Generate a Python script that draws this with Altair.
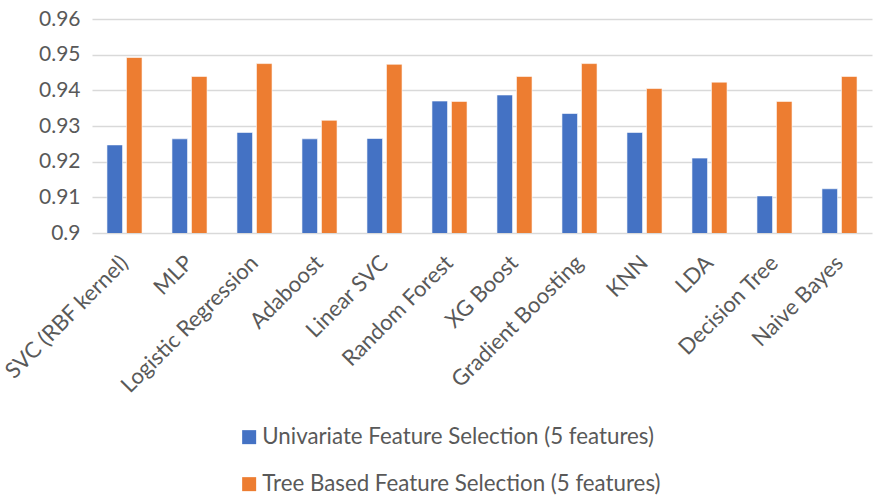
import altair as alt
import pandas as pd

models = ["SVC (RBF kernel)", "MLP", "Logistic Regression", "Adaboost", "Linear SVC",
          "Random Forest", "XG Boost", "Gradient Boosting", "KNN", "LDA",
          "Decision Tree", "Naive Bayes"]
univariate = [0.9247, 0.9264, 0.9282, 0.9264, 0.9265, 0.9370,
              0.9387, 0.9335, 0.9282, 0.9210, 0.9104, 0.9124]
tree_based = [0.9492, 0.9439, 0.9475, 0.9316, 0.9473, 0.9369,
              0.9439, 0.9475, 0.9405, 0.9423, 0.9369, 0.9439]
series = ["Univariate Feature Selection (5 features)",
          "Tree Based Feature Selection (5 features)"]
colors = ["#4472C4", "#ED7D31"]
y_ticks = [0.90, 0.91, 0.92, 0.93, 0.94, 0.95, 0.96]

rows = []
for m, u, t in zip(models, univariate, tree_based):
    rows.append({"model": m, "series": series[0], "score": u})
    rows.append({"model": m, "series": series[1], "score": t})
df = pd.DataFrame(rows)

FONT = "Lato"
GREY = "#595959"

chart = alt.Chart(df).mark_bar(stroke="white", strokeWidth=0.6, clip=True).encode(
    x=alt.X("model:N", sort=models, title=None,
            scale=alt.Scale(paddingInner=0.46, paddingOuter=0.23),
            axis=alt.Axis(labelAngle=-45, labelFontSize=22, labelColor=GREY,
                          labelFont=FONT, ticks=False, domain=False,
                          labelBaseline="middle", labelPadding=26,
                          labelLimit=300)),
    xOffset=alt.XOffset("series:N", sort=series,
                        scale=alt.Scale(paddingInner=0.2)),
    y=alt.Y("score:Q", title=None,
            scale=alt.Scale(domain=[0.9, 0.96], zero=False, nice=False),
            axis=alt.Axis(values=y_ticks, labelExpr="format(datum.value, '~g')",
                          labelFontSize=21, labelColor=GREY, labelFont=FONT,
                          ticks=False, domain=False, labelPadding=12,
                          gridColor="#D9D9D9", gridWidth=1.5)),
    color=alt.Color("series:N", sort=series,
                    scale=alt.Scale(domain=series, range=colors),
                    legend=alt.Legend(title=None, orient="none",
                                      legendX=146, legendY=407,
                                      direction="vertical",
                                      symbolType="square", symbolSize=196,
                                      symbolStrokeWidth=0,
                                      labelFontSize=22.3, labelColor=GREY,
                                      labelFont=FONT, labelOffset=2,
                                      labelLimit=600, rowPadding=24)),
).properties(
    width=780, height=214,
    autosize=alt.AutoSizeParams(type="none"),
    padding={"left": 92, "top": 19, "right": 1, "bottom": 264},
).configure_view(stroke=None)

chart.save("out.html", embed_options={"renderer": "svg", "actions": False})
